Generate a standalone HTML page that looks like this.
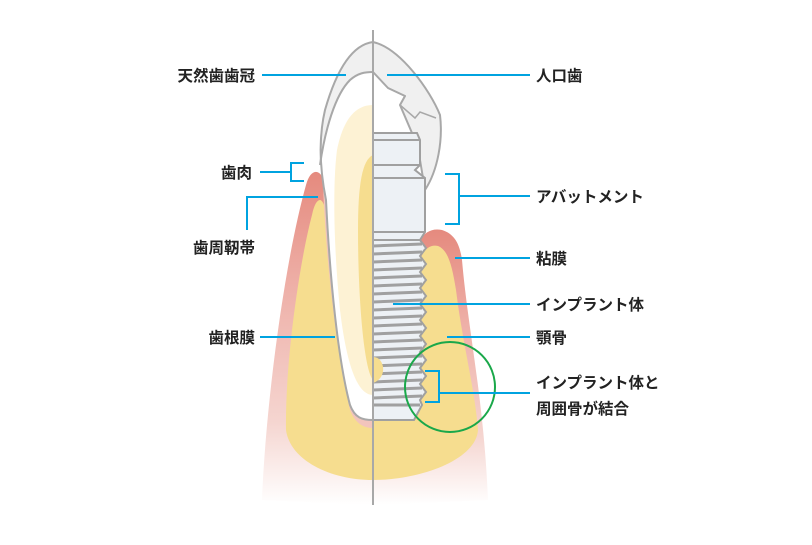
<!DOCTYPE html>
<html><head><meta charset="utf-8"><style>
html,body{margin:0;padding:0;background:#fff;width:812px;height:545px;overflow:hidden}
svg{display:block}
text{font-family:"Liberation Sans","Noto Sans CJK JP",sans-serif;font-size:15.5px;font-weight:bold;fill:#222}
</style></head><body>
<svg width="812" height="545" viewBox="0 0 812 545" xmlns="http://www.w3.org/2000/svg">
<defs>
<linearGradient id="pg" x1="0" y1="0" x2="0" y2="1">
<stop offset="0" stop-color="#e58a7e"/><stop offset="0.35" stop-color="#eeb0a8"/><stop offset="0.75" stop-color="#f5d5d0"/><stop offset="1" stop-color="#fff"/>
</linearGradient>
</defs>
<path d="M262,500 C266,400 285,260 306,185 C310,170 318,168 323,178 L335,215 L373,230 L373,505 Z" fill="url(#pg)"/>
<path d="M373,240 L420,240 C425,232 432,228 442,230 C455,234 460,245 462,260 C468,330 484,400 488,500 L373,505 Z" fill="url(#pg)"/>
<path d="M320,200 C324,200 328,215 332,240 L373,260 L373,480 C330,480 290,460 286,430 C285,360 300,260 312,215 C314,205 317,200 320,200 Z" fill="#f6dd8f"/>
<path d="M373,260 L420,260 C423,250 430,244 438,246 C448,250 452,265 456,290 C462,340 475,390 478,430 C476,460 420,480 373,480 Z" fill="#f6dd8f"/>
<path d="M323,185 C326,260 336,350 350,410 C356,425 365,428 373,428 L373,420 C362,420 356,415 352,400 C340,340 332,270 329,195 Z" fill="#f2c4bc"/>
<path d="M373,42 C350,45 335,75 325,110 C318,140 320,170 326,200 C330,280 338,360 350,405 C355,418 362,420 373,420 Z" fill="#fff"/>
<path d="M373,42 C350,45 335,75 325,110 C320,130 318,150 320,165 C325,130 335,95 350,80 C358,73 365,72 373,72 Z" fill="#f0f0f0"/>
<path d="M373,105 C355,105 343,120 337,150 C333,180 333,240 340,310 C346,360 356,395 373,395 Z" fill="#fdf2d4"/>
<path d="M373,155 C362,160 358,185 358,230 C358,300 364,370 373,380 Z" fill="#f6dd8f"/>
<path d="M373,42 C350,45 335,75 325,110 C318,140 320,170 326,200 C330,280 338,360 350,405 C355,418 362,420 373,420" fill="none" stroke="#a8a8a8" stroke-width="2"/>
<path d="M320,165 C325,130 335,95 350,80 C358,73 365,72 373,72" fill="none" stroke="#a8a8a8" stroke-width="2"/>
<path d="M373,42 C400,48 430,90 440,115 C443,140 438,170 425,190 L420,160 L415,140 L400,105 L405,96 L388,88 L373,72 Z" fill="#f0f0f0" stroke="#a8a8a8" stroke-width="2" stroke-linejoin="round"/>
<path d="M388,88 L405,96 L400,105 L415,118 L420,112 L436,118" fill="none" stroke="#a8a8a8" stroke-width="1.5"/>
<path d="M373,133 L417,133 L420,140 L420,165 L415,170 L425,178 L425,232 L420,240 L373,240 Z" fill="#edf1f5" stroke="#a0a0a0" stroke-width="2"/>
<line x1="373" y1="140" x2="420" y2="140" stroke="#a0a0a0" stroke-width="2"/>
<line x1="373" y1="165" x2="420" y2="165" stroke="#a0a0a0" stroke-width="2"/>
<line x1="373" y1="178" x2="425" y2="178" stroke="#a0a0a0" stroke-width="2"/>
<line x1="373" y1="232" x2="425" y2="232" stroke="#a0a0a0" stroke-width="2"/>
<path d="M373,240 L420,240 L426,248 L420,256 L426,264 L420,272 L426,280 L420,288 L426,296 L420,304 L426,312 L420,320 L426,328 L420,336 L426,344 L420,352 L426,360 L420,368 L426,376 L420,384 L426,392 L420,400 L422,405 L414,420 L373,420 Z" fill="#edf1f5" stroke="#a0a0a0" stroke-width="2"/>
<g stroke="#a0a0a0" stroke-width="3">
<line x1="373" y1="246" x2="422" y2="244"/><line x1="373" y1="254" x2="422" y2="252"/>
<line x1="373" y1="262" x2="422" y2="260"/><line x1="373" y1="270" x2="422" y2="268"/>
<line x1="373" y1="278" x2="422" y2="276"/><line x1="373" y1="286" x2="422" y2="284"/>
<line x1="373" y1="294" x2="422" y2="292"/><line x1="373" y1="302" x2="422" y2="300"/>
<line x1="373" y1="310" x2="422" y2="308"/><line x1="373" y1="318" x2="422" y2="316"/>
<line x1="373" y1="326" x2="422" y2="324"/><line x1="373" y1="334" x2="422" y2="332"/>
<line x1="373" y1="342" x2="422" y2="340"/><line x1="373" y1="350" x2="422" y2="348"/>
<line x1="373" y1="358" x2="422" y2="356"/><line x1="373" y1="366" x2="422" y2="364"/>
<line x1="373" y1="374" x2="422" y2="372"/><line x1="373" y1="382" x2="422" y2="380"/>
<line x1="373" y1="390" x2="422" y2="388"/><line x1="373" y1="398" x2="422" y2="396"/>
<line x1="373" y1="405" x2="420" y2="405"/>
</g>
<path d="M373,357 C385,357 388,378 373,383 Z" fill="#f6dd8f"/>
<line x1="373" y1="30" x2="373" y2="505" stroke="#a8a8a8" stroke-width="2"/>
<circle cx="450" cy="387" r="45" fill="none" stroke="#1aa84a" stroke-width="2"/>
<g stroke="#00a3e0" stroke-width="2" fill="none">
<line x1="262" y1="75" x2="346" y2="75"/>
<line x1="387" y1="75" x2="530" y2="75"/>
<path d="M260,172 L291,172 M304,163 L291,163 L291,181 L304,181"/>
<path d="M247,230 L247,197 L318,197"/>
<line x1="260" y1="337" x2="335" y2="337"/>
<path d="M445,174 L459,174 L459,224 L445,224 M459,196 L530,196"/>
<line x1="455" y1="258" x2="530" y2="258"/>
<line x1="393" y1="304" x2="530" y2="304"/>
<line x1="447" y1="337" x2="530" y2="337"/>
<path d="M425,371 L439,371 L439,402 L425,402 M439,393 L530,393"/>
</g>
<text x="255" y="81" text-anchor="end">天然歯歯冠</text>
<text x="252" y="178" text-anchor="end">歯肉</text>
<text x="255" y="253" text-anchor="end">歯周靭帯</text>
<text x="255" y="343" text-anchor="end">歯根膜</text>
<text x="536" y="81">人口歯</text>
<text x="536" y="202">アバットメント</text>
<text x="536" y="264">粘膜</text>
<text x="536" y="310">インプラント体</text>
<text x="536" y="343">顎骨</text>
<text x="536" y="388">インプラント体と</text>
<text x="536" y="414">周囲骨が結合</text>
</svg>
</body></html>
